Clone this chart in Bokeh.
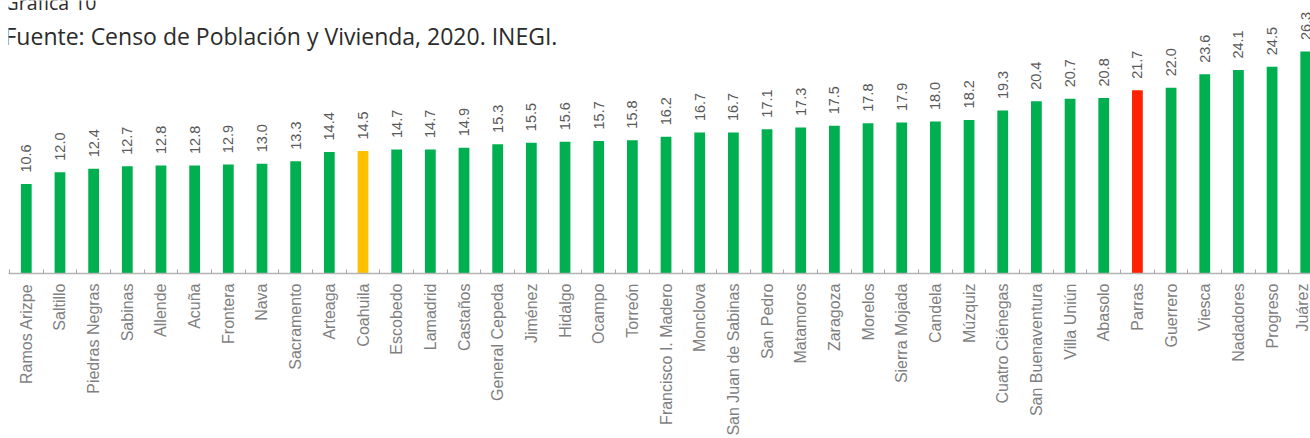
from math import pi
from bokeh.plotting import figure
from bokeh.models import (ColumnDataSource, Range1d, FixedTicker, LabelSet, Label)
from bokeh.core.properties import value
from bokeh.embed import file_html
from bokeh.resources import INLINE

# ---- data ----
municipios = ["Ramos Arizpe", "Saltillo", "Piedras Negras", "Sabinas", "Allende", "Acuña",
              "Frontera", "Nava", "Sacramento", "Arteaga", "Coahuila", "Escobedo", "Lamadrid",
              "Castaños", "General Cepeda", "Jiménez", "Hidalgo", "Ocampo", "Torreón",
              "Francisco I. Madero", "Monclova", "San Juan de Sabinas", "San Pedro", "Matamoros",
              "Zaragoza", "Morelos", "Sierra Mojada", "Candela", "Múzquiz", "Cuatro Ciénegas",
              "San Buenaventura", "Villa Uniún", "Abasolo", "Parras", "Guerrero", "Viesca",
              "Nadadores", "Progreso", "Juárez"]
valores = [10.6, 12.0, 12.4, 12.7, 12.8, 12.8, 12.9, 13.0, 13.3, 14.4, 14.5, 14.7, 14.7,
           14.9, 15.3, 15.5, 15.6, 15.7, 15.8, 16.2, 16.7, 16.7, 17.1, 17.3, 17.5, 17.8,
           17.9, 18.0, 18.2, 19.3, 20.4, 20.7, 20.8, 21.7, 22.0, 23.6, 24.1, 24.5, 26.3]
titulo = "Gráfica 10"
fuente = "Fuente: Censo de Población y Vivienda, 2020. INEGI."

GREEN, YELLOW, RED = "#00B050", "#FFC000", "#FF2200"
colores = [YELLOW if m == "Coahuila" else RED if m == "Parras" else GREEN for m in municipios]

idx = list(range(len(municipios)))
src = ColumnDataSource(dict(x=idx, top=valores, color=colores,
                            label=[f"{v:.1f}" for v in valores]))

W, H = 1310, 438
LEFT = 8              # px before the frame (axis line starts here)
step = 33.67          # px per category
x0 = -(25.8 - LEFT) / step
FRAME_H = 273         # axis line position from top
scale = 8.44          # px per unit
ymax = FRAME_H / scale

p = figure(width=W, height=H, output_backend="svg", toolbar_location=None,
           x_range=Range1d(x0, x0 + (W - LEFT) / step), y_range=Range1d(0, ymax),
           min_border=0, min_border_left=LEFT, min_border_right=0, min_border_top=0,
           min_border_bottom=0, y_axis_location=None, outline_line_color=None,
           background_fill_color="white", border_fill_color="white")
p.grid.visible = False

p.vbar(x="x", top="top", bottom=0, width=0.32, color="color", line_color=None, source=src)

ax = p.xaxis[0]
ax.ticker = FixedTicker(ticks=idx, minor_ticks=[i - 0.5 for i in range(len(idx) + 1)])
ax.major_label_overrides = {i: m for i, m in enumerate(municipios)}
ax.major_label_orientation = pi / 2
ax.major_label_text_font = "Liberation Sans"
ax.major_label_text_font_size = "16px"
ax.major_label_text_color = "#7f7f7f"
ax.major_label_standoff = 10
ax.major_tick_in = 0
ax.major_tick_out = 0
ax.minor_tick_in = 4
ax.minor_tick_out = 0
ax.minor_tick_line_color = "#a6a6a6"
ax.axis_line_color = "#b4b4b4"
ax.axis_line_width = 1.5

labels = LabelSet(x="x", y="top", text="label", source=src, angle=pi / 2,
                  y_offset=11.5, text_align="left", text_baseline="middle",
                  text_font=value("Liberation Sans"), text_font_size=value("14.5px"),
                  text_color=value("#595959"))
p.add_layout(labels)

xt = x0 - (LEFT - 4) / step
p.add_layout(Label(x=xt, y=(FRAME_H - 2) / scale, text=titulo, text_font="Open Sans",
                   text_font_size="19.5px", text_color="#2b2b2b",
                   text_baseline="alphabetic"))
p.add_layout(Label(x=xt, y=(FRAME_H - 35) / scale, text=fuente, text_font="Open Sans",
                   text_font_size="23px", text_color="#2b2b2b",
                   text_baseline="alphabetic"))

open("out.html", "w").write(file_html(p, INLINE))
